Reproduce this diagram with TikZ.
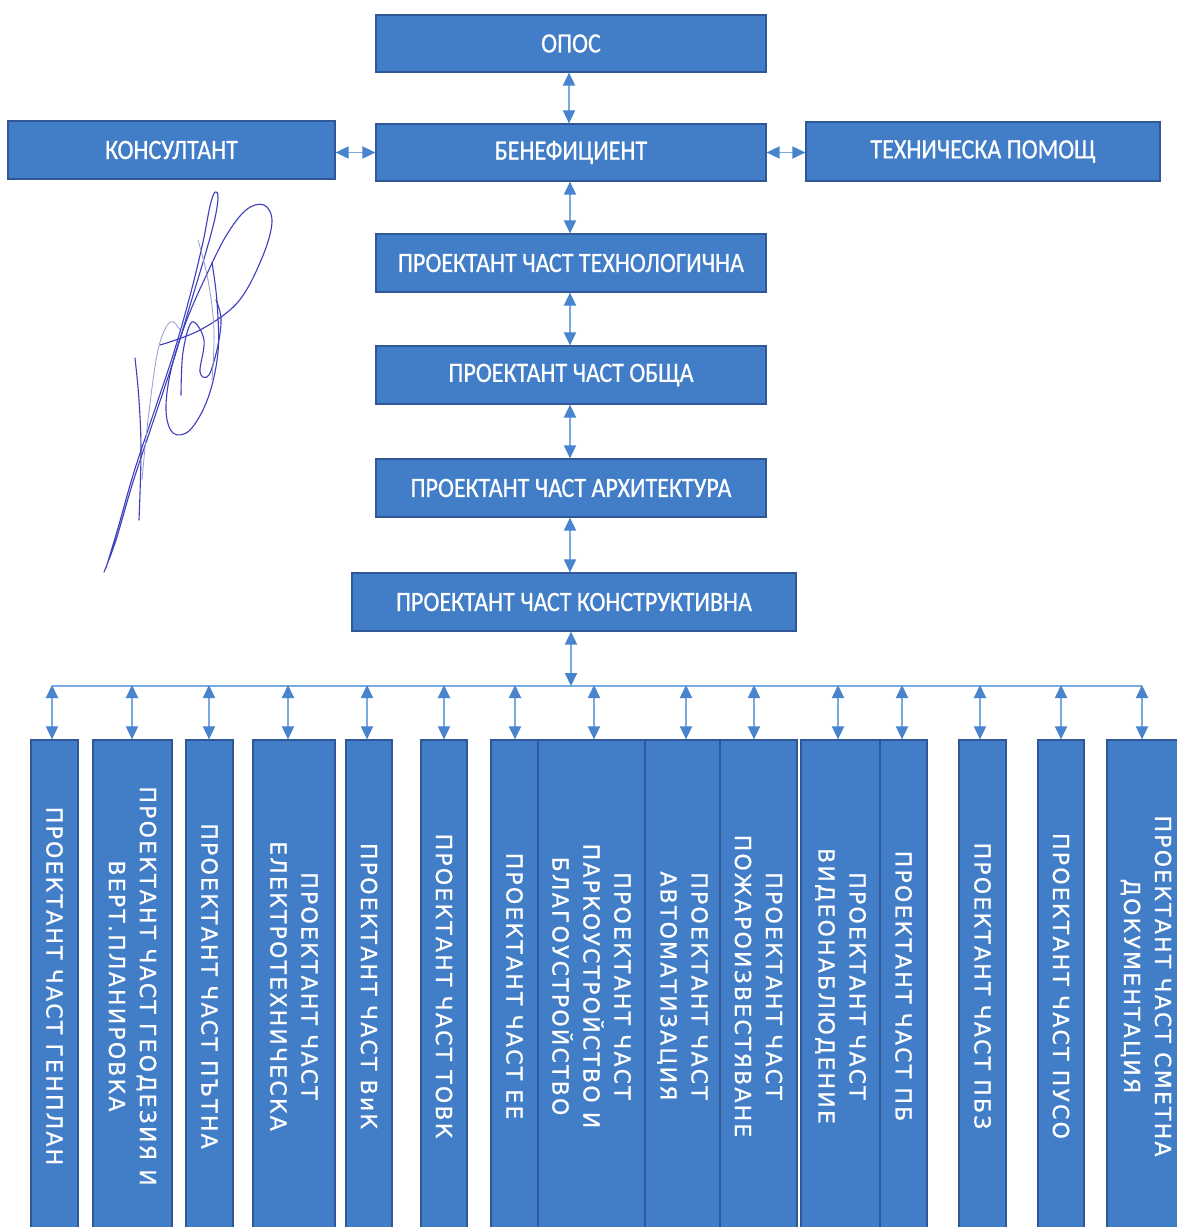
\documentclass[tikz,border=0pt]{standalone}
\usepackage{fontspec}
\setmainfont{Carlito}
\newfontfamily\topfont[FakeStretch=0.86,FakeBold=0.6]{Carlito}
\newfontfamily\colfont[LetterSpace=10,FakeBold=0.7]{DejaVu Sans}
\usetikzlibrary{arrows.meta}
\definecolor{boxfill}{RGB}{66,126,200}
\definecolor{boxline}{RGB}{48,88,150}
\definecolor{linkblue}{RGB}{120,170,225}
\definecolor{headblue}{RGB}{72,132,205}
\definecolor{inkblue}{RGB}{60,62,190}
\definecolor{inkgrey}{RGB}{150,155,200}
\begin{document}
\begin{tikzpicture}[x=1pt,y=-1pt,
  box/.style={draw=boxline,line width=1.2pt,fill=boxfill,text=white,inner sep=0pt},
  hbox/.style={box,font=\topfont\fontsize{28}{32}\selectfont},
  colbox/.style={box},
  vtext/.style={text=white,rotate=-90,align=center,inner sep=0pt,font=\colfont\fontsize{22}{31}\selectfont},
  link/.style={draw=linkblue,line width=1.8pt,
    {Triangle[width=12pt,length=13pt,color=headblue]}-{Triangle[width=12pt,length=13pt,color=headblue]}},
  bus/.style={draw=linkblue,line width=1.8pt},
  ink/.style={draw=inkblue,line width=1.1pt,line cap=round,line join=round}
]
\clip (0,0) rectangle (1177,1227);
\fill[white] (0,0) rectangle (1177,1227);

% top boxes
\node[hbox,minimum width=390pt,minimum height=57pt] (opos) at (571,43.5) {ОПОС};
\node[hbox,minimum width=327pt,minimum height=58pt] (kons) at (171.5,150) {КОНСУЛТАНТ};
\node[hbox,minimum width=390pt,minimum height=57pt] (ben) at (571,152.5) {БЕНЕФИЦИЕНТ};
\node[hbox,minimum width=354pt,minimum height=59pt] (teh) at (983,151.5) {ТЕХНИЧЕСКА ПОМОЩ};
\node[hbox,minimum width=390pt,minimum height=58pt] (tehn) at (571,263) {ПРОЕКТАНТ ЧАСТ ТЕХНОЛОГИЧНА};
\node[hbox,minimum width=390pt,minimum height=58pt] (obsh) at (571,375) {ПРОЕКТАНТ ЧАСТ ОБЩА};
\node[hbox,minimum width=390pt,minimum height=58pt] (arh) at (571,488) {ПРОЕКТАНТ ЧАСТ АРХИТЕКТУРА};
\node[hbox,minimum width=444pt,minimum height=58pt] (konst) at (574,602) {ПРОЕКТАНТ ЧАСТ КОНСТРУКТИВНА};

% vertical connectors in the chain
\coordinate (x0) at (569,0);
\coordinate (x1) at (570,0);
\draw[link] (opos.south -| x0) -- (ben.north -| x0);
\draw[link] (ben.south -| x1) -- (tehn.north -| x1);
\draw[link] (tehn.south -| x1) -- (obsh.north -| x1);
\draw[link] (obsh.south -| x1) -- (arh.north -| x1);
\draw[link] (arh.south -| x1) -- (konst.north -| x1);
\draw[link] (kons.east |- ben) -- (ben.west);
\draw[link] (ben.east) -- (teh.west |- ben);

% columns
\foreach \n/\cx/\w in {1/54.5/47, 2/132.5/79, 3/209.5/47, 4/294/82, 5/369/46, 6/444/46,
  7/514.5/47, 8/591.5/107, 9/682.5/75, 10/758.5/77, 11/840.5/79, 12/903.5/47,
  13/982.5/47, 14/1061/46, 15/1147/80}
  \node[colbox,minimum width=\w pt,minimum height=492pt] (c\n) at (\cx,986) {};

\node[vtext] at (c1) {ПРОЕКТАНТ ЧАСТ ГЕНПЛАН};
\node[vtext] at (c2) {ПРОЕКТАНТ ЧАСТ ГЕОДЕЗИЯ И\\ВЕРТ.ПЛАНИРОВКА};
\node[vtext] at (c3) {ПРОЕКТАНТ ЧАСТ ПЪТНА};
\node[vtext] at (c4) {ПРОЕКТАНТ ЧАСТ\\ЕЛЕКТРОТЕХНИЧЕСКА};
\node[vtext] at (c5) {ПРОЕКТАНТ ЧАСТ ВиК};
\node[vtext] at (c6) {ПРОЕКТАНТ ЧАСТ ТОВК};
\node[vtext] at (c7) {ПРОЕКТАНТ ЧАСТ ЕЕ};
\node[vtext] at (c8) {ПРОЕКТАНТ ЧАСТ\\ПАРКОУСТРОЙСТВО И\\БЛАГОУСТРОЙСТВО};
\node[vtext] at (c9) {ПРОЕКТАНТ ЧАСТ\\АВТОМАТИЗАЦИЯ};
\node[vtext] at (c10) {ПРОЕКТАНТ ЧАСТ\\ПОЖАРОИЗВЕСТЯВАНЕ};
\node[vtext] at (c11) {ПРОЕКТАНТ ЧАСТ\\ВИДЕОНАБЛЮДЕНИЕ};
\node[vtext] at (c12) {ПРОЕКТАНТ ЧАСТ ПБ};
\node[vtext] at (c13) {ПРОЕКТАНТ ЧАСТ ПБЗ};
\node[vtext] at (c14) {ПРОЕКТАНТ ЧАСТ ПУСО};
\node[vtext] at ([xshift=-1pt]c15.center) {ПРОЕКТАНТ ЧАСТ СМЕТНА\\ДОКУМЕНТАЦИЯ};

% bus
\coordinate (hub) at (571,686);
\draw[link] (konst.south -| hub) -- (hub);
\foreach \n/\bx in {1/52, 2/132, 3/209, 4/288, 5/367, 6/444, 7/515, 8/594, 9/686,
  10/754, 11/838, 12/902, 13/980, 14/1061, 15/1142}
  \coordinate (b\n) at (\bx,686);
\draw[bus] (b1) -- (b15);
\foreach \n in {1,...,15}
  \draw[link] ([yshift=1pt]b\n) -- (b\n |- c\n.north);

% signature
\draw[ink] plot[smooth,tension=0.6] coordinates {(106,568) (118,528) (134,472) (154,412) (174,352) (191,292) (203,242) (210,206) (215,192) (218,197) (215,218) (206,252) (191,302) (173,362) (153,422) (133,482) (116,540) (104,572)};
\draw[ink] plot[smooth,tension=0.6] coordinates {(160,345) (200,330) (238,302) (262,258) (272,222) (264,205) (246,210) (226,236) (206,276) (186,322) (171,370) (166,410) (173,433) (190,430) (208,398) (218,352) (217,302) (212,262)};
\draw[ink] plot[smooth,tension=0.6] coordinates {(181,395) (183,352) (192,322) (204,340) (200,372) (209,375) (218,345) (221,318) (216,300)};
\draw[ink] plot[smooth,tension=0.6] coordinates {(135,358) (139,400) (141,452) (139,520)};
\draw[draw=inkgrey,line width=0.8pt] plot[smooth,tension=0.6] coordinates {(142,480) (148,420) (158,350) (170,322) (180,330)};
\draw[draw=inkgrey,line width=0.8pt] plot[smooth,tension=0.6] coordinates {(198,240) (208,280) (214,330) (212,380)};
\end{tikzpicture}
\end{document}
